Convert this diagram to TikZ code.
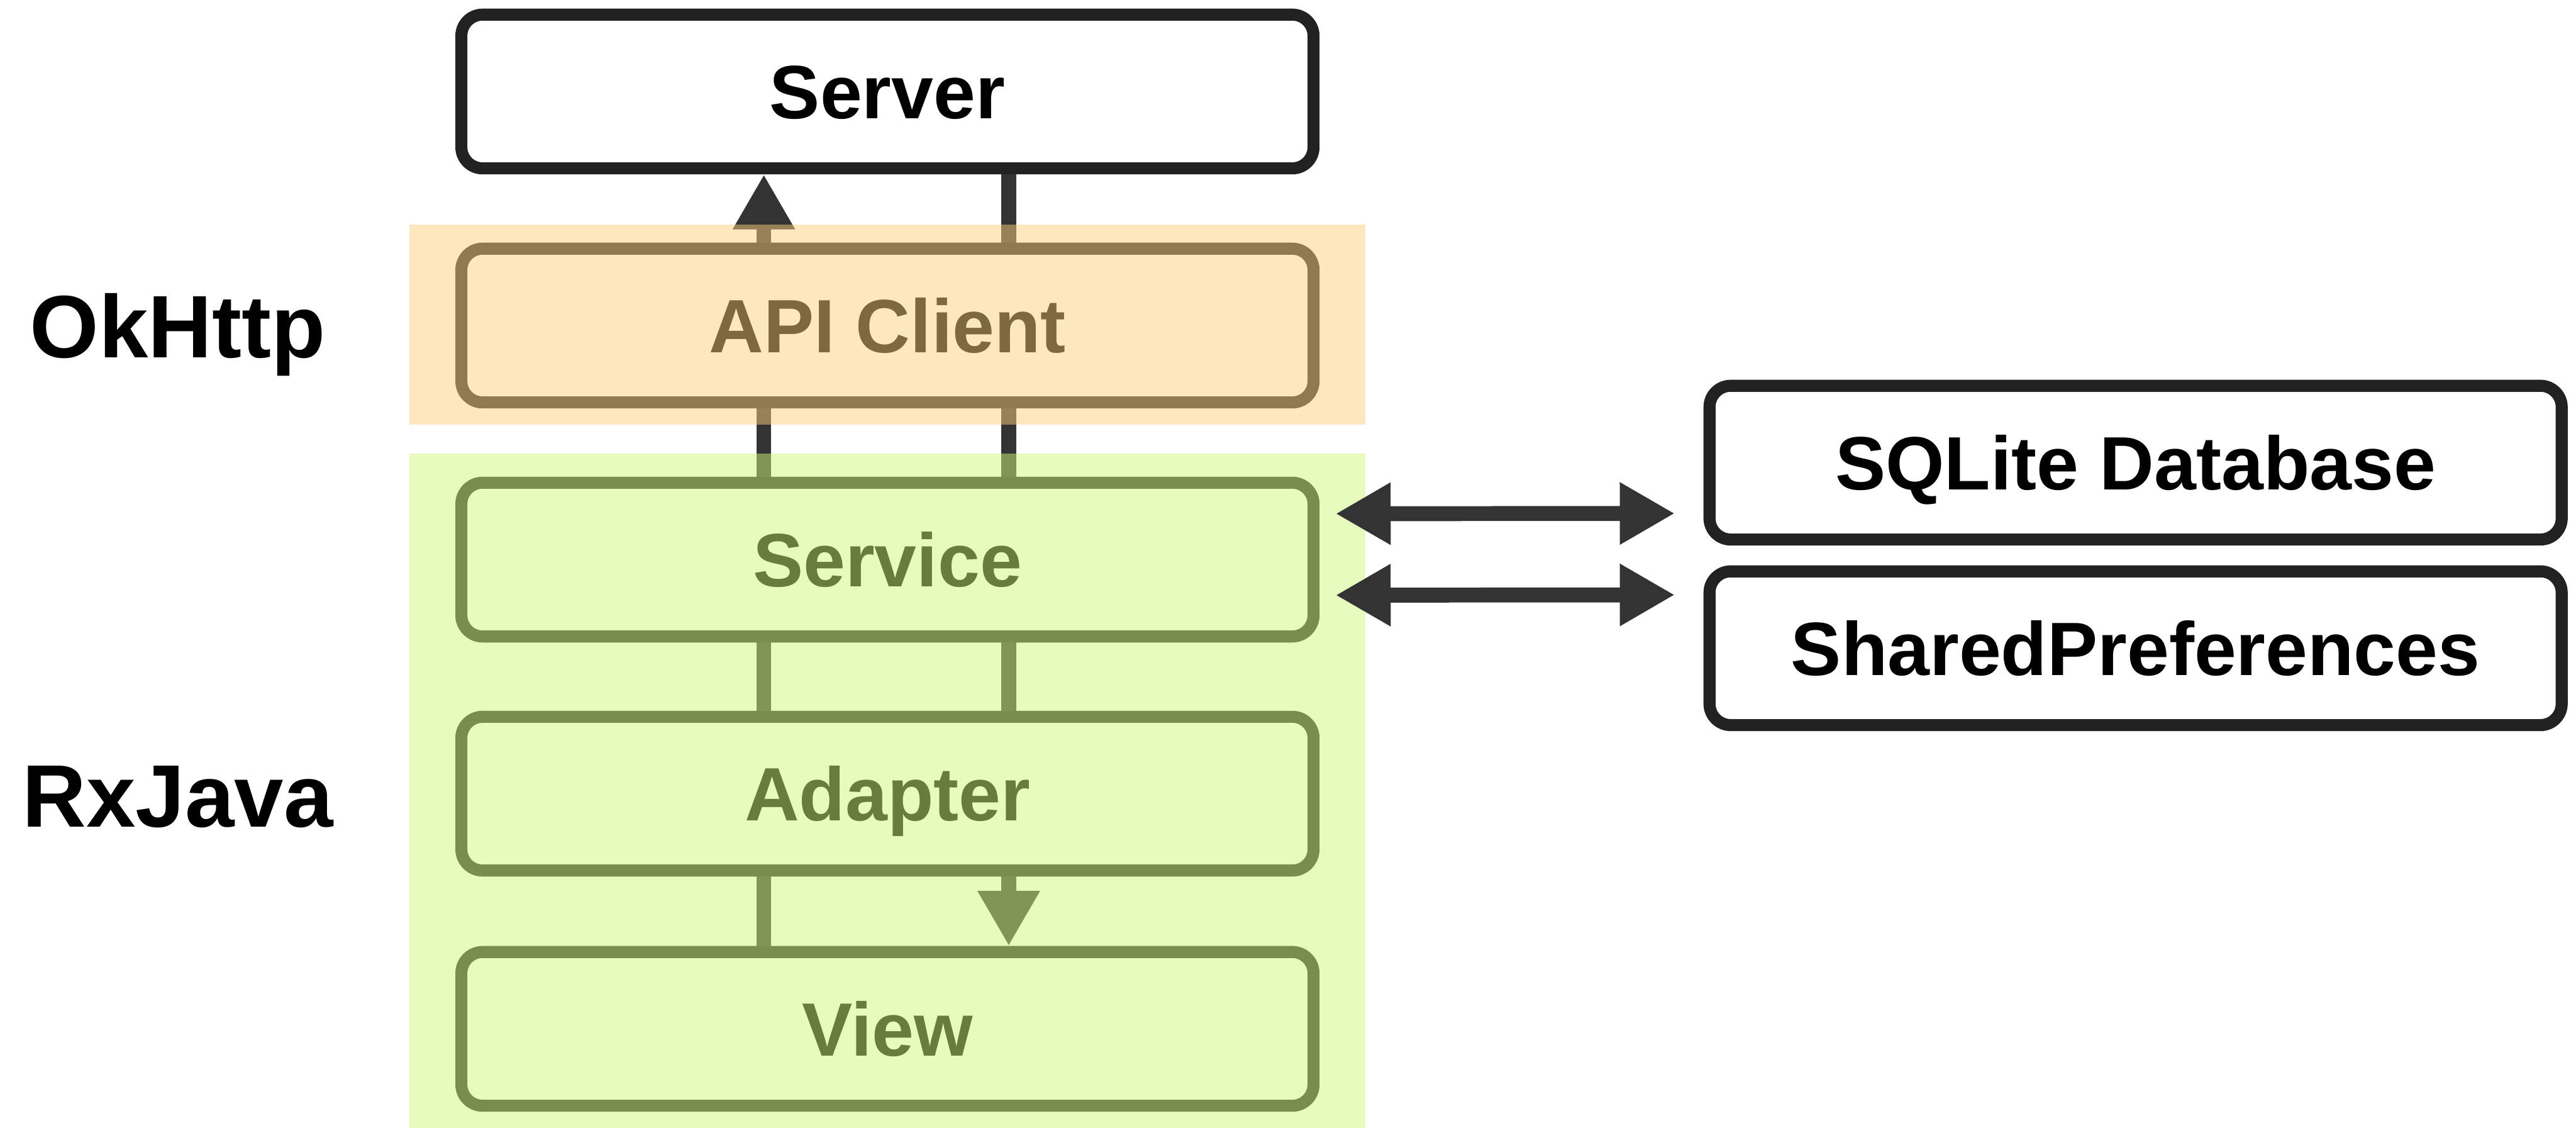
\documentclass[tikz,border=0pt]{standalone}
\usepackage{fontspec}
\setmainfont{Liberation Sans}
\usetikzlibrary{arrows.meta}

\definecolor{boxline}{HTML}{222222}
\definecolor{wiregray}{HTML}{333333}
\definecolor{okband}{RGB}{253,208,128}
\definecolor{rxband}{RGB}{210,248,128}

\begin{document}
\begin{tikzpicture}[
	box/.style={draw=boxline, line width=0.21cm, rounded corners=0.37cm, fill=white,
		minimum width=14.86cm, minimum height=2.68cm, text height=26.8pt, text depth=0pt,
		font=\fontsize{37.5}{45}\selectfont\bfseries},
	layer/.style={text height=31.6pt, text depth=0pt,
		font=\fontsize{44}{53}\selectfont\bfseries},
	wire/.style={draw=wiregray, line width=0.26cm},
	>={Triangle[length=0.96cm,width=1.02cm]}]
	\useasboundingbox (0,0) rectangle (44.92,-19.66);

	% boxes
	\node [box] (server) at (15.475,-1.595) {Server};
	\node [box] (api) at (15.475,-5.675) {API Client};
	\node [box] (service) at (15.475,-9.755) {Service};
	\node [box] (adapter) at (15.475,-13.835) {Adapter};
	\node [box] (view) at (15.475,-17.935) {View};
	\node [box] (sqlite) at (37.24,-8.065) {SQLite Database};
	\node [box] (prefs) at (37.24,-11.30) {SharedPreferences};

	% label
	\node [layer] (okhttp) at (3.1,-5.68) {OkHttp};
	\node [layer] (rxjava) at (3.1,-13.855) {RxJava};

	% api -- server
	\draw [wire, ->] ([xshift=-2.155cm]api.north) -- ([xshift=-2.155cm]server.south);
	\draw [wire] ([xshift=2.115cm]api.north) -- ([xshift=2.115cm]server.south);
	% service -- api
	\draw [wire] ([xshift=-2.155cm]service.north) -- ([xshift=-2.155cm]api.south);
	\draw [wire] ([xshift=2.115cm]service.north) -- ([xshift=2.115cm]api.south);
	% adapter -- service
	\draw [wire] ([xshift=-2.155cm]adapter.north) -- ([xshift=-2.155cm]service.south);
	\draw [wire] ([xshift=2.115cm]adapter.north) -- ([xshift=2.115cm]service.south);
	% adapter -- view
	\draw [wire] ([xshift=-2.155cm]adapter.south) -- ([xshift=-2.155cm]view.north);
	\draw [wire, ->] ([xshift=2.115cm]adapter.south) -- ([xshift=2.115cm]view.north);

	% layers
	\fill [okband, fill opacity=0.5] (7.14,-3.91) rectangle (23.81,-7.40);
	\fill [rxband, fill opacity=0.5] (7.14,-7.91) rectangle (23.81,-19.66);

	% storage
	\draw [wire, <->] ([xshift=0.28cm, yshift=0.80cm]service.east) -- ([xshift=-0.50cm, yshift=-0.885cm]sqlite.west);
	\draw [wire, <->] ([xshift=0.28cm, yshift=-0.62cm]service.east) -- ([xshift=-0.50cm, yshift=0.93cm]prefs.west);
\end{tikzpicture}
\end{document}
